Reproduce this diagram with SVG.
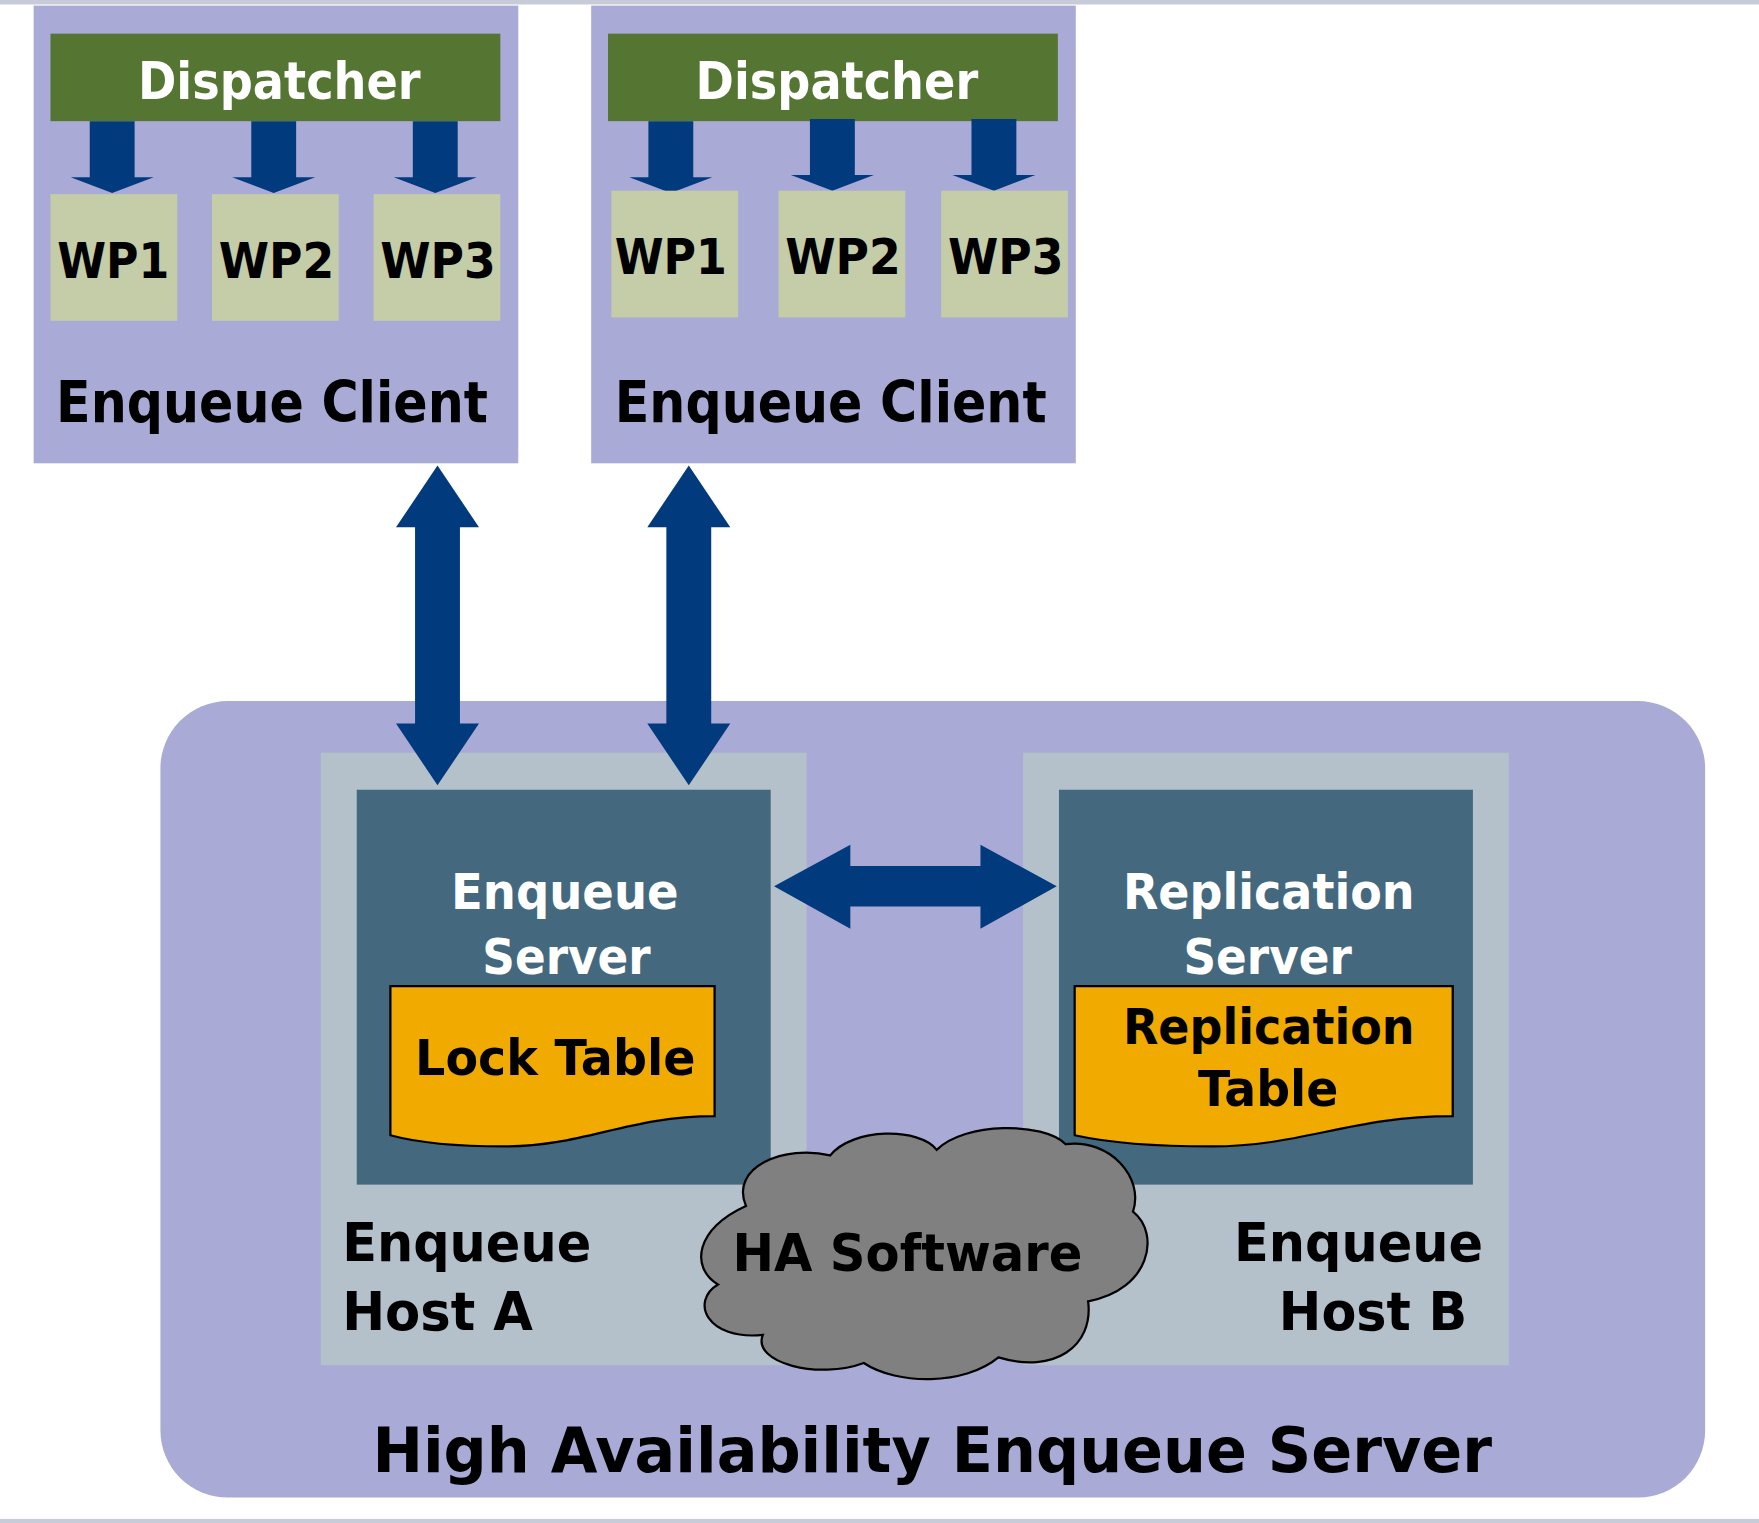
<svg xmlns="http://www.w3.org/2000/svg" width="1759" height="1523" viewBox="0 0 1759 1523">
<defs>
<style>
.t{font-family:"DejaVu Sans","Liberation Sans",sans-serif;font-weight:bold}
.cl{fill:#aaaad6}
.disp{fill:#557533}
.wp{fill:#c4cca8}
.arr{fill:#023a7e}
</style>
<path id="down" class="arr" d="M-20,0 H20 V50 H37 L0,64 L-37,50 H-20 Z"/>
<path id="vd" class="arr" d="M0,0 L37,55 H20 V230 H37 L0,285 L-37,230 H-20 V55 H-37 Z"/>
</defs>
<rect width="1759" height="1523" fill="#fff"/>
<g transform="scale(1.1218)" lengthAdjust="spacingAndGlyphs">
<rect x="0" y="0" width="1568" height="4" fill="#c8ccd8"/>
<rect x="0" y="1354" width="1568" height="4" fill="#c8ccd8"/>
<g id="client1">
<rect class="cl" x="30" y="5" width="432" height="408"/>
<rect class="disp" x="45" y="30" width="401" height="78"/>
<text class="t" x="123" y="88" font-size="46" fill="#fff" textLength="252" lengthAdjust="spacingAndGlyphs">Dispatcher</text>
<use href="#down" x="100" y="108"/><use href="#down" x="244" y="108"/><use href="#down" x="388" y="108"/>
<rect class="wp" x="45" y="173" width="113" height="113"/>
<rect class="wp" x="189" y="173" width="113" height="113"/>
<rect class="wp" x="333" y="173" width="113" height="113"/>
<g class="t" font-size="44"><text x="51" y="248" textLength="100" lengthAdjust="spacingAndGlyphs">WP1</text><text x="195" y="248" textLength="103" lengthAdjust="spacingAndGlyphs">WP2</text><text x="339" y="248" textLength="103" lengthAdjust="spacingAndGlyphs">WP3</text></g>
<text class="t" x="50" y="376" font-size="50" textLength="385" lengthAdjust="spacingAndGlyphs">Enqueue Client</text>
</g>
<g id="client2">
<rect class="cl" x="527" y="5" width="432" height="408"/>
<rect class="disp" x="542" y="30" width="401" height="78"/>
<text class="t" x="620" y="88" font-size="46" fill="#fff" textLength="252" lengthAdjust="spacingAndGlyphs">Dispatcher</text>
<use href="#down" x="598" y="108"/><use href="#down" x="742" y="106"/><use href="#down" x="886" y="106"/>
<rect class="wp" x="545" y="170" width="113" height="113"/>
<rect class="wp" x="694" y="170" width="113" height="113"/>
<rect class="wp" x="839" y="170" width="113" height="113"/>
<g class="t" font-size="44"><text x="548" y="244" textLength="100" lengthAdjust="spacingAndGlyphs">WP1</text><text x="700" y="244" textLength="103" lengthAdjust="spacingAndGlyphs">WP2</text><text x="845" y="244" textLength="103" lengthAdjust="spacingAndGlyphs">WP3</text></g>
<text class="t" x="548" y="376" font-size="50" textLength="385" lengthAdjust="spacingAndGlyphs">Enqueue Client</text>
</g>
<g id="ha">
<rect class="cl" x="143" y="625" width="1377" height="710" rx="60"/>
<text x="332" y="1312" font-size="56" font-family="DejaVu Sans, sans-serif" font-weight="600" textLength="998" lengthAdjust="spacingAndGlyphs">High Availability Enqueue Server</text>
</g>
<g id="hostA">
<rect x="286" y="671" width="433" height="546" fill="#b4c0ca"/>
<text class="t" x="305" y="1124" font-size="48" textLength="222" lengthAdjust="spacingAndGlyphs">Enqueue</text>
<text class="t" x="305" y="1186" font-size="48" textLength="170" lengthAdjust="spacingAndGlyphs">Host A</text>
</g>
<g id="hostB">
<rect x="912" y="671" width="433" height="546" fill="#b4c0ca"/>
<text class="t" x="1100" y="1124" font-size="48" textLength="222" lengthAdjust="spacingAndGlyphs">Enqueue</text>
<text class="t" x="1140" y="1186" font-size="48" textLength="168" lengthAdjust="spacingAndGlyphs">Host B</text>
</g>
<g id="enqserver">
<rect x="318" y="704" width="369" height="352" fill="#44687e"/>
<text class="t" x="402" y="810" font-size="44" fill="#fff" textLength="203" lengthAdjust="spacingAndGlyphs">Enqueue</text>
<text class="t" x="430" y="868" font-size="44" fill="#fff" textLength="150" lengthAdjust="spacingAndGlyphs">Server</text>
</g>
<g id="locktable">
<path d="M348,879 H637 V995 C560,995 520,1022 450,1022 C400,1022 370,1018 348,1012 Z" fill="#f0aa00" stroke="#000" stroke-width="2"/>
<text class="t" x="370" y="958" font-size="44" textLength="250" lengthAdjust="spacingAndGlyphs">Lock Table</text>
</g>
<g id="replserver">
<rect x="944" y="704" width="369" height="352" fill="#44687e"/>
<text class="t" x="1001" y="810" font-size="44" fill="#fff" textLength="260" lengthAdjust="spacingAndGlyphs">Replication</text>
<text class="t" x="1055" y="868" font-size="44" fill="#fff" textLength="150" lengthAdjust="spacingAndGlyphs">Server</text>
</g>
<g id="repltable">
<path d="M958,879 H1295 V995 C1205,995 1160,1022 1080,1022 C1020,1022 985,1018 958,1012 Z" fill="#f0aa00" stroke="#000" stroke-width="2"/>
<text class="t" x="1001" y="931" font-size="44" textLength="260" lengthAdjust="spacingAndGlyphs">Replication</text>
<text class="t" x="1068" y="986" font-size="44" textLength="125" lengthAdjust="spacingAndGlyphs">Table</text>
</g>
<g id="cloud">
<path d="M665,1075 C650,1040 700,1020 740,1030 C760,1005 820,1005 835,1025 C860,1000 930,1000 950,1020 C990,1015 1020,1050 1010,1080 C1035,1100 1025,1150 970,1160 C975,1200 940,1225 890,1210 C860,1235 800,1235 770,1215 C730,1230 670,1215 680,1190 C630,1195 615,1160 640,1145 C615,1130 620,1095 665,1075 Z" fill="#808080" stroke="#000" stroke-width="2"/>
<text class="t" x="653" y="1133" font-size="46" textLength="312" lengthAdjust="spacingAndGlyphs">HA Software</text>
</g>
<g id="connectors">
<use href="#vd" x="390" y="415"/>
<use href="#vd" x="614" y="415"/>
<path class="arr" d="M690,790 L758,753 V772 H874 V753 L942,790 L874,828 V808 H758 V828 Z"/>
</g>
</g>
</svg>
